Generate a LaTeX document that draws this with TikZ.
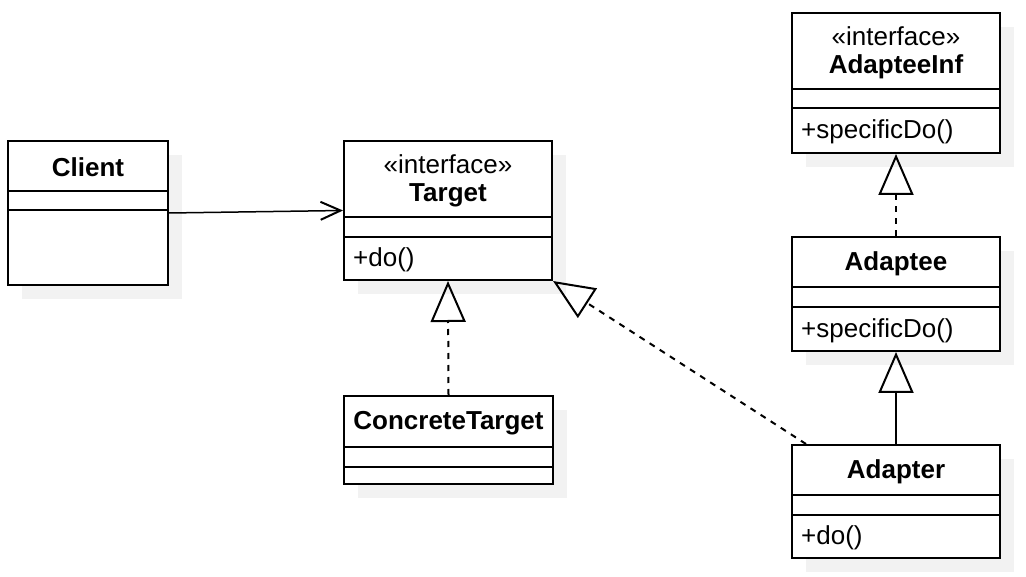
\documentclass[tikz,border=0pt]{standalone}
\usepackage{fontspec}
\setmainfont{Liberation Sans}
\usetikzlibrary{arrows.meta,shadows}

\begin{document}
\begin{tikzpicture}[x=1pt,y=-1pt,line join=miter,
		every node/.style={font=\fontsize{26}{28}\selectfont},
		classbox/.style={draw,line width=2pt,fill=white,inner sep=0pt,
			drop shadow={shadow xshift=14pt,shadow yshift=-14pt,fill=black!5,opacity=1}},
		member/.style={anchor=west,inner sep=0pt},
		sepline/.style={line width=2pt},
		assoc/.style={line width=1.5pt,-{Straight Barb[length=20pt,width=18pt,line width=2pt]}},
		realize/.style={line width=2pt,dash pattern=on 6pt off 6pt,-{Triangle[open,length=41pt,width=35pt]}},
		inherit/.style={line width=2pt,-{Triangle[open,length=41pt,width=35pt]}}]
		\useasboundingbox (0,0) rectangle (1026,577);
		% class boxes
		\node[classbox,minimum width=160pt,minimum height=144pt] (client) at (88,213) {};
		\node[classbox,minimum width=208pt,minimum height=139pt] (target) at (448,210.5) {};
		\node[classbox,minimum width=209pt,minimum height=88pt] (concrete) at (448.5,440) {};
		\node[classbox,minimum width=208pt,minimum height=140pt] (adapteeinf) at (896,83) {};
		\node[classbox,minimum width=208pt,minimum height=114pt] (adaptee) at (896,294) {};
		\node[classbox,minimum width=208pt,minimum height=113pt] (adapter) at (896,501.5) {};
		% compartments
		\draw[sepline] (client.west |- 0,191) -- (client.east |- 0,191);
		\draw[sepline] (client.west |- 0,210) -- (client.east |- 0,210);
		\draw[sepline] (target.west |- 0,217) -- (target.east |- 0,217);
		\draw[sepline] (target.west |- 0,237) -- (target.east |- 0,237);
		\draw[sepline] (concrete.west |- 0,447) -- (concrete.east |- 0,447);
		\draw[sepline] (concrete.west |- 0,467) -- (concrete.east |- 0,467);
		\draw[sepline] (adapteeinf.west |- 0,89) -- (adapteeinf.east |- 0,89);
		\draw[sepline] (adapteeinf.west |- 0,108) -- (adapteeinf.east |- 0,108);
		\draw[sepline] (adaptee.west |- 0,287) -- (adaptee.east |- 0,287);
		\draw[sepline] (adaptee.west |- 0,307) -- (adaptee.east |- 0,307);
		\draw[sepline] (adapter.west |- 0,495) -- (adapter.east |- 0,495);
		\draw[sepline] (adapter.west |- 0,515) -- (adapter.east |- 0,515);
		% names and members
		\node (client-name) at (88,167) {\bfseries Client};
		\node[align=center] (target-name) at (448,180.5) {«interface»\\\bfseries Target};
		\node[member] (target-do) at (353,260) {+do()};
		\node (concrete-name) at (448.5,423) {\bfseries ConcreteTarget};
		\node[align=center] (adapteeinf-name) at (896,52.5) {«interface»\\\bfseries AdapteeInf};
		\node[member] (adapteeinf-do) at (801,132) {+specificDo()};
		\node (adaptee-name) at (896,264) {\bfseries Adaptee};
		\node[member] (adaptee-do) at (801,330.5) {+specificDo()};
		\node (adapter-name) at (896,472) {\bfseries Adapter};
		\node[member] (adapter-do) at (801,538) {+do()};
		% relations
		\draw[assoc] (client.east) -- (target.west);
		\draw[realize] (concrete.north) -- (target.south);
		\draw[realize] ([xshift=15pt]adapter.north west) -- (target.south east);
		\draw[realize] (adaptee.north) -- (adapteeinf.south);
		\draw[inherit] (adapter.north) -- (adaptee.south);
\end{tikzpicture}
\end{document}
